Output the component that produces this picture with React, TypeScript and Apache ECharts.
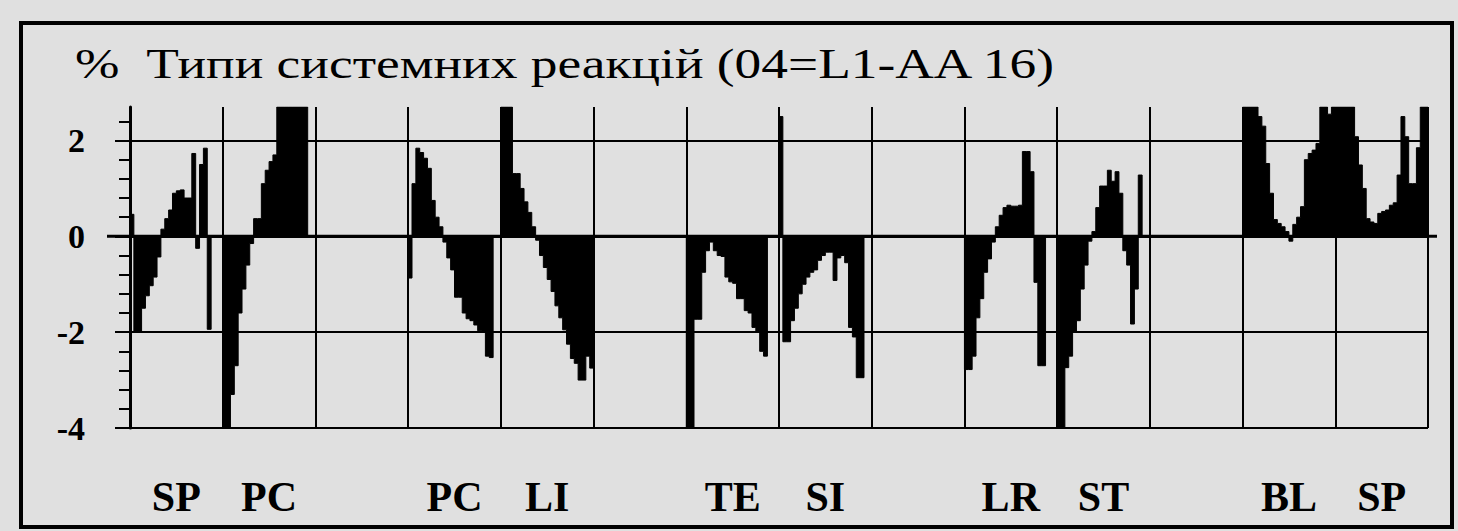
import React, { useEffect, useRef } from 'react';
import * as echarts from 'echarts';

const TITLE = '%  Типи системних реакцій (04=L1-AA 16)';
const segmentLabels = ['SP', 'PC', '', 'PC', 'LI', '', 'TE', 'SI', '', 'LR', 'ST', '', 'BL', 'SP'];
const yLabelValues = [-4, -2, 0, 2];
const yMinorTickValues = [-4, -3.6, -3.2, -2.8, -2.4, -2, -1.6, -1.2, -0.8, -0.4, 0, 0.4, 0.8, 1.2, 1.6, 2, 2.4];
const STEPS = 24;

const segSP1 = [0.46, -2.0, -2.0, -1.5, -1.24, -1.03, -0.85, -0.43, 0.15, 0.37, 0.55, 0.9, 0.95, 0.97, 0.8, 0.8, 1.73, -0.25, 1.5, 1.84, -1.94, 0, 0, 0];
const segPC1 = [-4, -4, -3.3, -2.7, -1.6, -1.1, -0.6, -0.15, 0.37, 0.37, 1.1, 1.38, 1.56, 1.7, 2.7, 2.7, 2.7, 2.7, 2.7, 2.7, 2.7, 2.7, 0, 0];
const segGap1 = [0, 0, 0, 0, 0, 0, 0, 0, 0, 0, 0, 0, 0, 0, 0, 0, 0, 0, 0, 0, 0, 0, 0, 0];
const segPC2 = [-0.87, 1.1, 1.84, 1.75, 1.63, 1.42, 0.75, 0.4, 0.2, -0.12, -0.45, -0.7, -1.27, -1.27, -1.6, -1.72, -1.76, -1.85, -1.97, -2.0, -2.5, -2.53, 0, 0];
const segLI = [2.7, 2.7, 2.7, 1.31, 1.31, 1.0, 0.72, 0.5, 0.2, -0.08, -0.4, -0.65, -0.9, -1.15, -1.45, -1.7, -1.95, -2.25, -2.55, -2.65, -3.0, -3.0, -2.5, -2.75];
const segGap2 = [0, 0, 0, 0, 0, 0, 0, 0, 0, 0, 0, 0, 0, 0, 0, 0, 0, 0, 0, 0, 0, 0, 0, 0];
const segTE = [-4, -4, -1.73, -1.73, -0.75, -0.3, -0.12, -0.3, -0.4, -0.42, -0.85, -0.95, -0.98, -1.3, -1.3, -1.55, -1.6, -1.9, -2.0, -2.4, -2.5, 0, 0, 0];
const segSI = [2.5, -2.2, -2.2, -1.76, -1.5, -1.2, -1.0, -0.85, -0.75, -0.7, -0.5, -0.4, -0.33, -0.33, -0.92, -0.45, -0.4, -0.55, -1.9, -2.1, -2.95, -2.95, 0, 0];
const segGap3 = [0, 0, 0, 0, 0, 0, 0, 0, 0, 0, 0, 0, 0, 0, 0, 0, 0, 0, 0, 0, 0, 0, 0, 0];
const segLR = [-2.78, -2.78, -2.5, -1.7, -1.3, -0.75, -0.47, -0.12, 0.2, 0.44, 0.6, 0.65, 0.63, 0.63, 0.65, 1.77, 1.77, 1.35, -0.96, -2.7, -2.7, 0, 0, 0];
const segST = [-4, -4, -2.74, -2.5, -2.0, -1.76, -1.1, -0.6, -0.1, 0.1, 0.6, 1.05, 1.05, 1.38, 1.15, 1.35, 0.9, -0.3, -0.6, -1.83, -1.1, 1.28, 0, 0];
const segGap4 = [0, 0, 0, 0, 0, 0, 0, 0, 0, 0, 0, 0, 0, 0, 0, 0, 0, 0, 0, 0, 0, 0, 0, 0];
const segBL = [2.7, 2.7, 2.7, 2.7, 2.5, 2.3, 1.52, 0.9, 0.35, 0.27, 0.2, 0.1, -0.1, 0.25, 0.4, 0.62, 1.6, 1.73, 1.8, 1.94, 2.7, 2.7, 2.55, 2.7];
const segSP2 = [2.7, 2.7, 2.7, 2.7, 2.7, 2.08, 1.49, 1.0, 0.37, 0.3, 0.27, 0.48, 0.52, 0.55, 0.65, 0.7, 1.28, 2.5, 2.08, 1.1, 1.1, 1.85, 2.7, 2.7];

const segments = [segSP1, segPC1, segGap1, segPC2, segLI, segGap2, segTE, segSI, segGap3, segLR, segST, segGap4, segBL, segSP2];

const FONT = "'Times New Roman', 'Liberation Serif', serif";

export default function App() {
  const ref = useRef<HTMLDivElement>(null);

  useEffect(() => {
    if (!ref.current) return;
    const chart = echarts.init(ref.current, null, { renderer: 'svg' });

    const data: number[][] = [];
    segments.forEach((vals, k) => vals.forEach((v, i) => data.push([k + i / STEPS, v])));
    data.push([segments.length, 0]);

    const option: any = {
      animation: false,
      backgroundColor: '#e0e0e0',
      textStyle: { fontFamily: FONT },
      grid: { left: 130, right: 30, top: 107, bottom: 103, containLabel: false, outerBoundsMode: 'none' },
      xAxis: [
        {
          type: 'value', min: 0, max: segments.length, interval: 1,
          axisLine: { show: false }, axisTick: { show: false }, axisLabel: { show: false },
          splitLine: { show: true, lineStyle: { color: '#000', width: 2 } },
        },
        {
          type: 'value', min: 0, max: segments.length, interval: 0.5, position: 'bottom',
          axisLine: { show: false }, axisTick: { show: false }, splitLine: { show: false },
          axisLabel: {
            show: true, margin: 69, verticalAlign: 'middle',
            fontFamily: FONT, fontWeight: 'bold', fontSize: 42, color: '#000',
            formatter: (v: number) => {
              const k = Math.floor(v);
              return Math.abs(v - k - 0.5) < 1e-6 ? segmentLabels[k] || '' : '';
            },
          },
        },
      ],
      yAxis: [
        {
          type: 'value', min: -4, max: 2.7, position: 'left',
          axisLine: { show: true, lineStyle: { color: '#000', width: 3 } },
          axisTick: { show: true, length: 11, lineStyle: { color: '#000', width: 2 }, customValues: yMinorTickValues },
          axisLabel: { customValues: yLabelValues, margin: 45, fontFamily: FONT, fontSize: 34, fontWeight: 'bold', color: '#000' },
          splitLine: { show: false },
        },
        {
          type: 'value', min: -4, max: 2.7, interval: 2, position: 'left',
          axisLine: { show: false },
          axisTick: { show: true, length: 15, lineStyle: { color: '#000', width: 2 }, customValues: yLabelValues },
          axisLabel: { show: false, customValues: yLabelValues },
          splitLine: { show: true, lineStyle: { color: '#000', width: 2 } },
        },
      ],
      series: [
        {
          type: 'line', step: 'end', data, symbol: 'none', showSymbol: false,
          xAxisIndex: 0, yAxisIndex: 0, clip: true,
          lineStyle: { color: '#000', width: 1 },
          areaStyle: { color: '#000', opacity: 1 },
        },
      ],
    };
    chart.setOption(option);

    let scaleX = 1;
    try {
      const ctx = document.createElement('canvas').getContext('2d');
      if (ctx) {
        ctx.font = "42px 'Times New Roman', 'Liberation Serif', serif";
        const w = ctx.measureText(TITLE).width;
        if (w > 0) scaleX = 982 / w;
      }
    } catch (e) { /* ignore */ }

    const pL = chart.convertToPixel({ gridIndex: 0 }, [0, 0]) as number[];
    const pR = chart.convertToPixel({ gridIndex: 0 }, [segments.length, 0]) as number[];

    chart.setOption({
      graphic: [
        {
          type: 'rect', z: 100,
          shape: { x: 21, y: 23, width: 1431, height: 504 },
          style: { fill: 'none', stroke: '#000', lineWidth: 4 },
        },
        {
          type: 'text', z: 100, x: 75, y: 64, scaleX,
          style: { text: TITLE, fontFamily: FONT, fontSize: 42, fill: '#000', align: 'left', verticalAlign: 'middle' },
        },
        {
          type: 'line', z: 100,
          shape: { x1: pL[0] - 23, y1: pL[1], x2: pR[0] + 9, y2: pR[1] },
          style: { stroke: '#000', lineWidth: 3 },
        },
      ],
    });

    return () => chart.dispose();
  }, []);

  return <div ref={ref} style={{ position: 'fixed', left: 0, top: 0, width: 1458, height: 531 }} />;
}
